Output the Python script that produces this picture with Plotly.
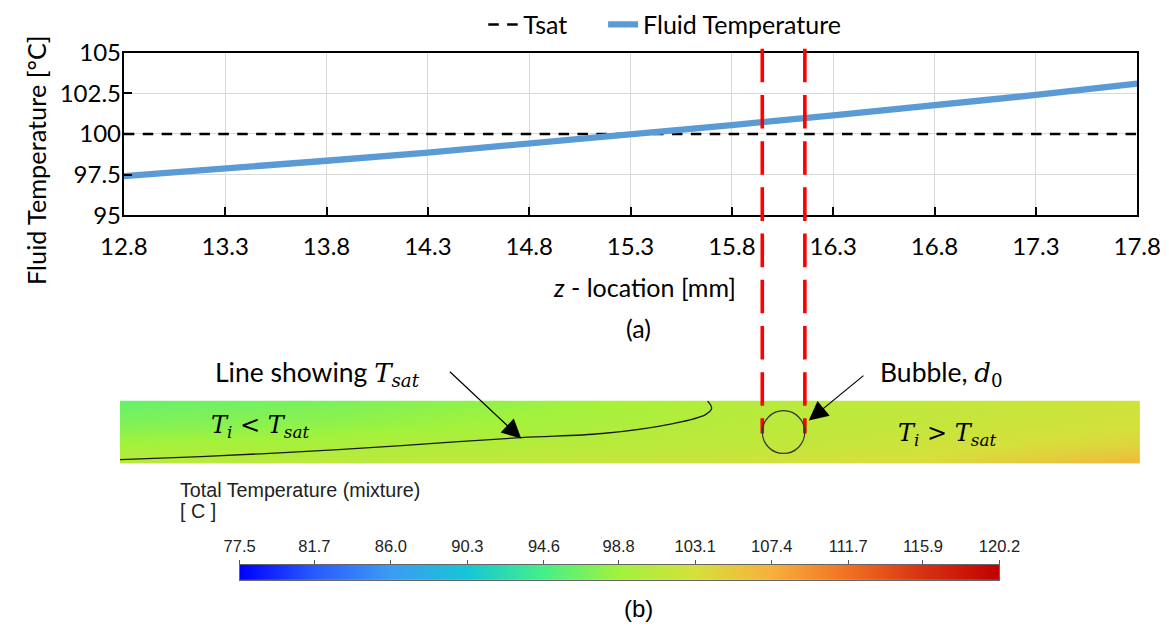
import plotly.graph_objects as go

# The returned picture shows the page slightly reduced and offset; positions below are
# given in picture pixels of the reference and mapped to figure pixels.
SX, BX = 0.961, 22.0
SY, BY = 0.9525, 15.3
FW, FH = 1185, 638

# ---------------- data ----------------
z_loc = [12.8, 13.3, 13.8, 14.3, 14.8, 15.3, 15.8, 16.3, 16.8, 17.3, 17.8]
fluid_T = [97.4, 97.85, 98.35, 98.85, 99.4, 99.95, 100.55, 101.15, 101.75, 102.4, 103.1]
tsat_z = [12.8, 17.8]
tsat_T = [100, 100]
x_ticks = [12.8, 13.3, 13.8, 14.3, 14.8, 15.3, 15.8, 16.3, 16.8, 17.3, 17.8]
y_ticks = [95, 97.5, 100, 102.5, 105]
y_tick_text = ["95", "97.5", "100", "102.5", "105"]

bubble_z = [15.95, 16.16]          # bubble edges (red dashed lines)
bubble_y = [0.05, 0.26]

# contour strip (sampled temperature field, bottom row first)
strip_z = [12.78, 13.8, 14.8, 15.8, 16.8, 17.815]
strip_y = [0.0, 0.1, 0.2, 0.31]
strip_T = [
    [100.8, 101.0, 101.5, 102.4, 103.6, 106.8],
    [98.9, 99.4, 100.3, 101.2, 102.4, 104.0],
    [97.2, 97.9, 99.1, 100.6, 101.7, 102.9],
    [96.1, 97.0, 98.3, 100.2, 101.4, 102.4],
]
# T = Tsat contour line in the strip
tsat_line_z = [12.78, 13.18, 13.68, 14.17, 14.76, 15.16, 15.51, 15.67, 15.70, 15.68]
tsat_line_y = [0.020, 0.035, 0.059, 0.089, 0.128, 0.148, 0.197, 0.241, 0.271, 0.308]

cbar_ticks = [77.5, 81.7, 86.0, 90.3, 94.6, 98.8, 103.1, 107.4, 111.7, 115.9, 120.2]
cbar_colors = ["#0000ff", "#2a5cff", "#3c9cf4", "#16c6d6", "#46f088", "#a2f23c",
               "#d6e03c", "#f8b03c", "#f27020", "#d83212", "#c00000"]

# ---------------- helpers (layout only) ----------------
def fx(x):
    return (x - BX) / SX

def fy(y):
    return (y - BY) / SY

def px(x):
    return fx(x) / FW

def py(y):
    return 1 - fy(y) / FH

lo, hi = cbar_ticks[0], cbar_ticks[-1]
colorscale = [[(v - lo) / (hi - lo), c] for v, c in zip(cbar_ticks, cbar_colors)]

CAL = "Lato, 'Open Sans', sans-serif"
ARI = "'Liberation Sans', Arial, sans-serif"
SER = "'DejaVu Serif', 'Liberation Serif', serif"

fig = go.Figure()

# top chart
fig.add_trace(go.Scatter(x=tsat_z, y=tsat_T, mode="lines", name="Tsat", legend="legend",
                         line=dict(color="black", width=2.6, dash="10.5px,8.4px"),
                         xaxis="x", yaxis="y"))
fig.add_trace(go.Scatter(x=z_loc, y=fluid_T, mode="lines", name="Fluid Temperature",
                         legend="legend2", line=dict(color="#5b9bd5", width=6.3),
                         xaxis="x", yaxis="y"))

# contour strip
fig.add_trace(go.Heatmap(x=strip_z, y=strip_y, z=strip_T, zsmooth="best",
                         colorscale=colorscale, zmin=lo, zmax=hi, showscale=False,
                         xaxis="x2", yaxis="y2", hoverinfo="skip"))
fig.add_trace(go.Scatter(x=tsat_line_z, y=tsat_line_y, mode="lines", showlegend=False,
                         line=dict(color="#1a1a1a", width=1.3, shape="spline"),
                         xaxis="x2", yaxis="y2"))

# colour bar
fig.add_trace(go.Heatmap(x=cbar_ticks, y=[0], z=[cbar_ticks], zsmooth="best",
                         colorscale=colorscale, zmin=lo, zmax=hi, showscale=False,
                         xaxis="x3", yaxis="y3", hoverinfo="skip"))

leg_top = 1 + 15 / FH
fig.update_layout(
    width=FW, height=FH, autosize=False,
    margin=dict(l=0, r=0, t=0, b=0),
    paper_bgcolor="white", plot_bgcolor="white",
    font=dict(family=CAL, size=24, color="black"),
    showlegend=True,
    legend=dict(orientation="h", x=px(482), xanchor="left", y=leg_top, yanchor="top",
                font=dict(family=CAL, size=25), bgcolor="rgba(0,0,0,0)", itemwidth=30),
    legend2=dict(orientation="h", x=px(602), xanchor="left", y=leg_top, yanchor="top",
                 font=dict(family=CAL, size=25), bgcolor="rgba(0,0,0,0)", itemwidth=30),
    xaxis=dict(domain=[px(122), px(1137)], range=[12.8, 17.8], tickvals=x_ticks,
               ticktext=[f"{v:.1f}" for v in x_ticks],
               showgrid=True, gridcolor="#d9d9d9", gridwidth=1, zeroline=False,
               showline=True, linecolor="black", linewidth=2, mirror=True,
               ticks="inside", ticklen=8, tickwidth=2, tickcolor="black",
               tickfont=dict(family=CAL, size=24), ticklabelstandoff=9,
               anchor="y"),
    yaxis=dict(domain=[py(214), py(52)], range=[95, 105], tickvals=y_ticks,
               ticktext=y_tick_text,
               showgrid=True, gridcolor="#d9d9d9", gridwidth=1, zeroline=False,
               showline=True, linecolor="black", linewidth=2, mirror=True,
               ticks="inside", ticklen=8, tickwidth=2, tickcolor="black",
               tickfont=dict(family=CAL, size=24), ticklabelstandoff=-4,
               anchor="x"),
    xaxis2=dict(domain=[px(118), px(1140)], range=[12.78, 17.815], visible=False,
                anchor="y2"),
    yaxis2=dict(domain=[py(462), py(399)], range=[0, 0.31], visible=False, anchor="x2"),
    xaxis3=dict(domain=[px(238), px(999)], range=[lo, hi], side="top",
                tickvals=cbar_ticks, ticktext=[f"{v:.1f}" for v in cbar_ticks],
                ticks="outside", ticklen=4, tickwidth=1, tickcolor="#555",
                tickfont=dict(family=ARI, size=16.5, color="#222"), ticklabelstandoff=1,
                showline=True, linecolor="#666", linewidth=1, mirror=True,
                showgrid=False, zeroline=False, anchor="y3"),
    yaxis3=dict(domain=[py(578), py(563)], range=[-0.5, 0.5], showticklabels=False,
                ticks="", showline=True, linecolor="#666", linewidth=1, mirror=True,
                showgrid=False, zeroline=False, anchor="x3"),
)

# red dashed lines marking the bubble
for zb in bubble_z:
    fig.add_shape(type="line", xref="x", yref="paper", x0=zb, x1=zb,
                  y0=py(48), y1=py(432),
                  line=dict(color="#ff0000", width=3.6, dash="33.6px,12.6px"),
                  layer="above")

# bubble outline
fig.add_shape(type="circle", xref="x2", yref="y2",
              x0=bubble_z[0], x1=bubble_z[1], y0=bubble_y[0], y1=bubble_y[1],
              line=dict(color="#333333", width=1.2), layer="above")

MATH = "font-family:DejaVu Serif;font-size:26px"
ann = []
# axis titles
ann.append(dict(text="Fluid Temperature [°C]", x=12 / FW,
                y=py(159.5), xanchor="center", textangle=-90,
                font=dict(family=CAL, size=25.3)))
ann.append(dict(text="<i>z</i> - location [mm]", x=px(643), y=py(286), xanchor="center",
                font=dict(family=CAL, size=25)))
ann.append(dict(text="(a)", x=px(637), y=py(327), xanchor="center",
                font=dict(family=CAL, size=25)))
ann.append(dict(text="(b)", x=px(637), y=py(607), xanchor="center",
                font=dict(family=ARI, size=24)))
ann.append(dict(text="Total Temperature (mixture)", x=px(176), y=py(488), xanchor="left",
                font=dict(family=ARI, size=19.7, color="#222")))
ann.append(dict(text="[ C ]", x=px(176), y=py(509), xanchor="left",
                font=dict(family=ARI, size=19.7, color="#222")))
ann.append(dict(text=f"Line showing <span style='{MATH}'><i>T</i><sub><i>sat</i></sub></span>",
                x=px(211), y=py(372), xanchor="left", font=dict(family=CAL, size=26.5)))
ann.append(dict(text=f"Bubble, <span style='{MATH}'><i>d</i><sub>0</sub></span>",
                x=px(877), y=py(372), xanchor="left", font=dict(family=CAL, size=26.5)))
ann.append(dict(text="<i>T</i><sub><i>i</i></sub> &lt; <i>T</i><sub><i>sat</i></sub>",
                x=px(207), y=py(425), xanchor="left", font=dict(family=SER, size=24)))
ann.append(dict(text="<i>T</i><sub><i>i</i></sub> &gt; <i>T</i><sub><i>sat</i></sub>",
                x=px(895), y=py(433), xanchor="left", font=dict(family=SER, size=24)))
# arrows (head, tail) in picture pixels
for (hx, hy), (tx, ty) in [((520, 437), (450, 372)), ((808, 419), (862, 375))]:
    ann.append(dict(text="", x=px(hx), y=py(hy), ax=fx(tx) - fx(hx), ay=fy(ty) - fy(hy),
                    showarrow=True, arrowhead=2, arrowsize=3.2, arrowwidth=1.2,
                    arrowcolor="black", standoff=0))
for a in ann:
    a.setdefault("xref", "paper")
    a.setdefault("yref", "paper")
    a.setdefault("yanchor", "middle")
    a.setdefault("showarrow", False)
    fig.add_annotation(**a)

fig.write_html("out.html")
